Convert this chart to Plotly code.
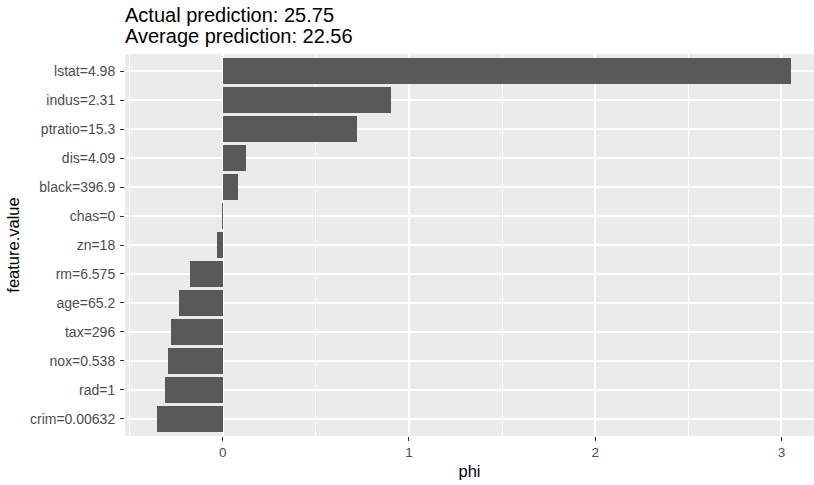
import plotly.graph_objects as go

# Shapley contributions per feature, listed top to bottom
features = ["lstat=4.98", "indus=2.31", "ptratio=15.3", "dis=4.09", "black=396.9",
            "chas=0", "zn=18", "rm=6.575", "age=65.2", "tax=296",
            "nox=0.538", "rad=1", "crim=0.00632"]
phi = [3.053, 0.905, 0.722, 0.126, 0.082,
       -0.004, -0.031, -0.174, -0.237, -0.280,
       -0.294, -0.312, -0.355]

actual_pred = "25.75"
average_pred = "22.56"

FONT = "Liberation Sans, Arial, sans-serif"

fig = go.Figure(go.Bar(
    x=phi,
    y=features,
    orientation="h",
    width=0.9,
    marker=dict(color="#595959", line=dict(width=0)),
))

fig.update_layout(
    width=814,
    height=485,
    margin=dict(l=125, r=0, t=54, b=49),
    paper_bgcolor="white",
    plot_bgcolor="#EBEBEB",
    font=dict(family=FONT, size=13, color="#4D4D4D"),
    showlegend=False,
    bargap=0,
)

fig.update_xaxes(
    range=[-0.525, 3.175],
    tickvals=[0, 1, 2, 3],
    ticks="outside",
    ticklen=4,
    tickwidth=1,
    tickcolor="#333333",
    tickfont=dict(size=13.5, color="#4D4D4D"),
    showgrid=True,
    gridcolor="white",
    gridwidth=1.6,
    minor=dict(tickvals=[-0.5, 0.5, 1.5, 2.5], showgrid=True,
               gridcolor="white", gridwidth=0.8, ticks=""),
    zeroline=False,
    showline=False,
    title=dict(text="phi", font=dict(size=16.5, color="black"), standoff=6),
)

fig.update_yaxes(
    categoryorder="array",
    categoryarray=features,
    range=[12.6, -0.6],
    ticks="outside",
    ticklen=4,
    tickwidth=1,
    tickcolor="#333333",
    tickfont=dict(size=14, color="#4D4D4D"),
    ticklabelstandoff=2,
    showgrid=True,
    gridcolor="white",
    gridwidth=1.6,
    zeroline=False,
    showline=False,
    title=dict(text="feature.value", font=dict(size=16.5, color="black"), standoff=6),
)

# Two-line title above the panel, left aligned with it
fig.add_annotation(
    text=f"Actual prediction: {actual_pred}",
    xref="paper", yref="paper", x=0, y=(436 - 15) / 382, xshift=-2,
    xanchor="left", yanchor="middle", showarrow=False,
    font=dict(family=FONT, size=20, color="black"),
)
fig.add_annotation(
    text=f"Average prediction: {average_pred}",
    xref="paper", yref="paper", x=0, y=(436 - 36) / 382, xshift=-2,
    xanchor="left", yanchor="middle", showarrow=False,
    font=dict(family=FONT, size=20, color="black"),
)

fig.write_html("out.html")
